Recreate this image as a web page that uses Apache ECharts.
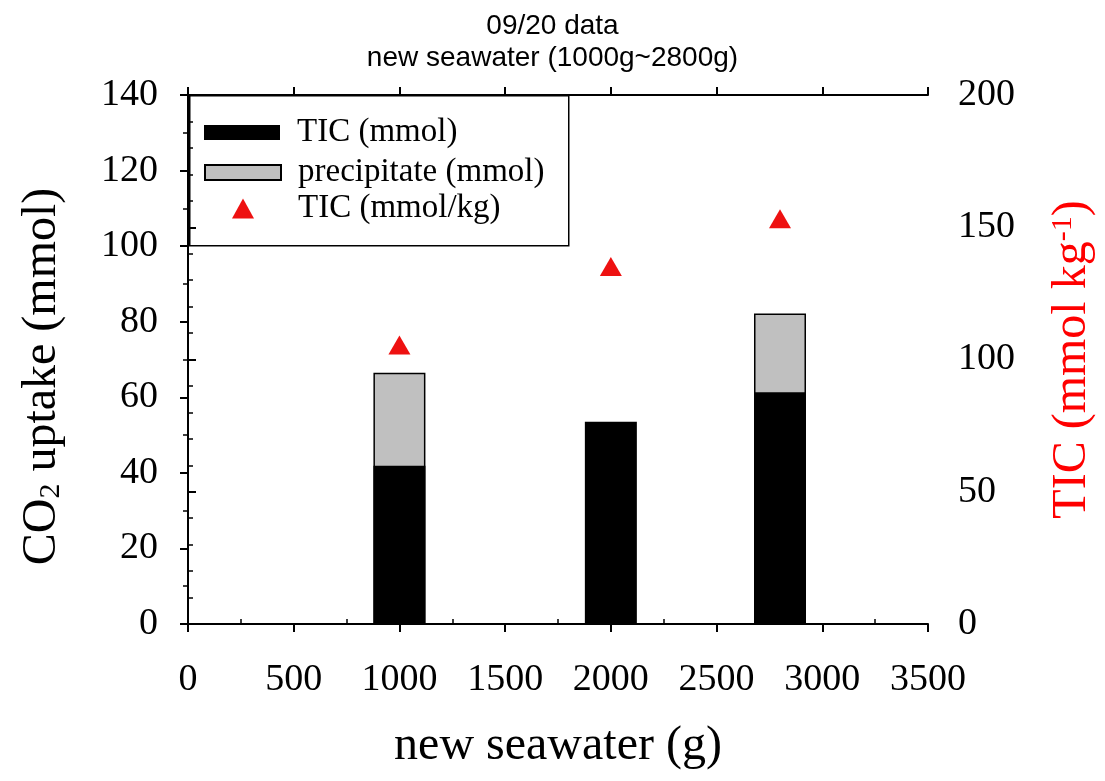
<!DOCTYPE html>
<html>
<head>
<meta charset="utf-8">
<script src="https://cdn.jsdelivr.net/npm/echarts@6/dist/echarts.min.js"></script>
<style>html,body{margin:0;padding:0;background:#fff;}#c{width:1105px;height:781px;}</style>
</head>
<body>
<div id="c"></div>
<script>
// Data
var seawater = [1000, 2000, 2800];              // new seawater (g)
var ticMmol = [41.9, 53.5, 61.3];               // TIC (mmol)
var precipMmol = [24.6, null, 20.9];            // precipitate (mmol)
var ticPerKg = [105.5, 135.2, 153.2];           // TIC (mmol/kg)
var xTicks = [0, 500, 1000, 1500, 2000, 2500, 3000, 3500];
var titleLines = ['09/20 data', 'new seawater (1000g~2800g)'];

var serif = '"Liberation Serif","Times New Roman",serif';
var sans = '"Liberation Sans",Arial,sans-serif';
var red = '#ff0000';

function pairs(xs, ys) {
  return xs.map(function (x, i) { return [x, ys[i] == null ? '-' : ys[i]]; });
}
// top of the stacked (TIC + precipitate) column, drawn behind the TIC bar
var stackTop = precipMmol.map(function (p, i) { return p == null ? null : ticMmol[i] + p; });

var chart = echarts.init(document.getElementById('c'), null, {renderer: 'canvas'});
var axisLineStyle = {color: '#000', width: 2};
var legendText = {fontFamily: serif, fontSize: 33, color: '#000', lineHeight: 15, padding: [0, 0, 0, 12]};
var option = {
  backgroundColor: '#fff',
  animation: false,
  title: {
    text: titleLines.join('\n'),
    left: 'center', top: 5,
    textStyle: {fontFamily: sans, fontSize: 28, fontWeight: 'normal', color: '#000', lineHeight: 32}
  },
  grid: {left: 188, right: 177, top: 95, bottom: 157, containLabel: false},
  legend: [
    {data: [{name: 'TIC (mmol)', icon: 'rect'}], left: 204, top: 116, padding: 0, itemWidth: 76, itemHeight: 15,
     textStyle: legendText, selectedMode: false},
    {data: [{name: 'precipitate (mmol)', icon: 'rect'}], left: 204, top: 156, padding: 0, itemWidth: 76, itemHeight: 15,
     textStyle: legendText, selectedMode: false},
    {data: [{name: 'TIC (mmol/kg)', icon: 'triangle'}], left: 232, top: 192, padding: 0, itemWidth: 22, itemHeight: 20,
     textStyle: {fontFamily: serif, fontSize: 33, color: '#000', lineHeight: 20, padding: [0, 0, 0, 39]}, selectedMode: false}
  ],
  graphic: [{
    type: 'rect', left: 189, top: 95, z: 100,
    shape: {width: 379, height: 150},
    style: {fill: 'transparent', stroke: '#000', lineWidth: 1.5}
  }],
  xAxis: [
    {
      type: 'value', position: 'bottom', min: 0, max: 3500, interval: 500,
      name: 'new seawater (g)', nameLocation: 'middle', nameGap: 98,
      nameTextStyle: {fontFamily: serif, fontSize: 48, color: '#000'},
      axisLine: {show: true, lineStyle: axisLineStyle},
      axisTick: {show: true, length: 8, lineStyle: {color: '#000', width: 2}},
      axisLabel: {fontFamily: serif, fontSize: 38, color: '#000', margin: 37,
        formatter: function (v) { return xTicks.indexOf(v) >= 0 ? String(v) : ''; }},
      splitLine: {show: false}
    },
    {
      type: 'value', position: 'bottom', min: 0, max: 3500, interval: 500,
      axisLine: {show: false},
      axisTick: {show: false, inside: true},
      minorTick: {show: true, splitNumber: 2, length: 5, lineStyle: {color: '#000', width: 1.5}},
      axisLabel: {show: false}, splitLine: {show: false}
    },
    {
      type: 'value', position: 'top', min: 0, max: 3500, interval: 500,
      axisLine: {show: true, lineStyle: axisLineStyle},
      axisTick: {show: true, length: 8, lineStyle: {color: '#000', width: 2}},
      axisLabel: {show: false}, splitLine: {show: false}
    }
  ],
  yAxis: [
    {
      type: 'value', position: 'left', min: 0, max: 140, interval: 20,
      name: '{a|CO}{s|2}{a| uptake (mmol)}', nameLocation: 'middle', nameGap: 122, nameRotate: 90,
      nameTextStyle: {color: '#000', padding: [0, 34, 0, 0], rich: {
        a: {fontFamily: serif, fontSize: 48, lineHeight: 48, verticalAlign: 'top', color: '#000'},
        s: {fontFamily: serif, fontSize: 30, lineHeight: 30, verticalAlign: 'bottom', padding: [26, 0, 0, 0], color: '#000'}
      }},
      axisLine: {show: true, lineStyle: axisLineStyle},
      axisTick: {show: true, length: 8, lineStyle: {color: '#000', width: 2}},
      minorTick: {show: true, splitNumber: 2, length: 5, lineStyle: {color: '#000', width: 1.5}},
      axisLabel: {fontFamily: serif, fontSize: 38, color: '#000', margin: 30},
      splitLine: {show: false}
    },
    {
      type: 'value', position: 'right', min: 0, max: 200, interval: 50,
      name: '{a|TIC (mmol kg}{p|-1}{a|)}', nameLocation: 'middle', nameGap: 120, nameRotate: 90,
      nameTextStyle: {color: red, rich: {
        a: {fontFamily: serif, fontSize: 48, lineHeight: 48, verticalAlign: 'bottom', color: red},
        p: {fontFamily: serif, fontSize: 30, lineHeight: 30, verticalAlign: 'top', color: red}
      }},
      axisLine: {show: true, lineStyle: axisLineStyle},
      axisTick: {show: true, length: 8, lineStyle: {color: '#000', width: 2}},
      minorTick: {show: true, splitNumber: 5, length: 5, lineStyle: {color: '#000', width: 1.5}},
      axisLabel: {fontFamily: serif, fontSize: 38, color: '#000', margin: 30},
      splitLine: {show: false}
    }
  ],
  series: [
    {
      name: 'precipitate (mmol)', type: 'bar', xAxisIndex: 0, yAxisIndex: 0,
      barWidth: 52, barGap: '-100%', data: pairs(seawater, stackTop), z: 2,
      itemStyle: {color: '#c0c0c0', borderColor: '#000', borderWidth: 1.5}
    },
    {
      name: 'TIC (mmol)', type: 'bar', xAxisIndex: 0, yAxisIndex: 0,
      barWidth: 52, barGap: '-100%', data: pairs(seawater, ticMmol), z: 3,
      itemStyle: {color: '#000', borderColor: '#000', borderWidth: 0}
    },
    {
      name: 'TIC (mmol/kg)', type: 'scatter', xAxisIndex: 0, yAxisIndex: 1,
      symbol: 'triangle', symbolSize: [22, 19], data: pairs(seawater, ticPerKg), z: 4,
      itemStyle: {color: '#ee1111', opacity: 1}
    }
  ]
};
chart.setOption(option);
</script>
</body>
</html>
